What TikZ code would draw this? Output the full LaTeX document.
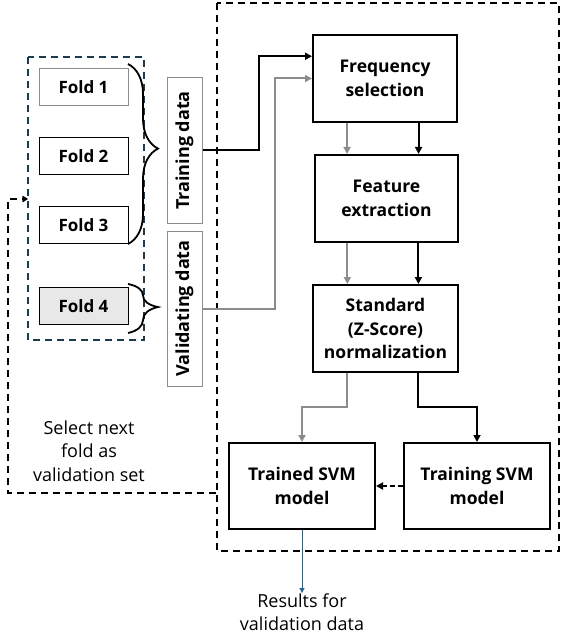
\documentclass[tikz,border=0pt]{standalone}
\usepackage{fontspec}
\setmainfont{Open Sans}
\usetikzlibrary{arrows.meta,calc,decorations.pathreplacing}
\definecolor{GreyClr}{rgb}{0.55,0.55,0.55}
\definecolor{FoldClr}{rgb}{0.11,0.23,0.30}
\definecolor{ResultClr}{rgb}{0.12,0.40,0.58}

\begin{document}
\begin{tikzpicture}[x=1pt,y=-1pt,
  every node/.style={font=\fontsize{18}{23.5}\selectfont, align=center, inner sep=0pt},
  foldbox/.style={draw, line width=1pt, minimum width=89pt, minimum height=37pt, font=\fontsize{17}{23}\selectfont\bfseries},
  databox/.style={draw=GreyClr, line width=1pt, rotate=90, minimum height=35pt, font=\fontsize{18}{22}\selectfont\bfseries},
  stepbox/.style={draw, line width=2pt, minimum width=145pt, minimum height=87pt, font=\fontsize{17.5}{23.5}\selectfont\bfseries},
  blk/.style={line width=2pt, -{Triangle[length=7pt,width=7pt]}},
  gry/.style={line width=2pt, GreyClr, -{Triangle[length=7pt,width=7pt]}},
  frame/.style={line width=1.6pt, dash pattern=on 7pt off 5pt}]
\useasboundingbox (0,0) rectangle (561,636);

% The folds of the data set.
\draw[frame, FoldClr] (28,57) rectangle (144,340);
\node[foldbox, draw=GreyClr] (fold1) at (83.5,87.5) {Fold 1};
\node[foldbox] (fold2) at (83.5,156.5) {Fold 2};
\node[foldbox] (fold3) at (83.5,225) {Fold 3};
\node[foldbox, fill=black!9] (fold4) at (83.5,306) {Fold 4};

\draw[line width=1.8pt, decorate, decoration={brace, amplitude=30pt, aspect=0.47}] (128,64) -- (128,244);
\draw[line width=1.8pt, decorate, decoration={brace, amplitude=30pt, aspect=0.47}] (128,284) -- (128,333);

\node[databox, minimum width=145pt] (train) at (184.5,150.5) {Training data};
\node[databox, minimum width=155pt] (valid) at (184.5,308.5) {Validating data};

% The processing chain.
\draw[frame] (217,3) rectangle (559,551);
\node[stepbox, minimum width=144pt] (freq) at (385,78.5) {Frequency\\selection};
\node[stepbox, minimum width=143pt] (feat) at (386.5,198.5) {Feature\\extraction};
\node[stepbox] (norm) at (385.5,328.5) {Standard\\(Z-Score)\\normalization};
\node[stepbox, minimum width=146pt, minimum height=86pt] (trained) at (302,486) {Trained SVM\\model};
\node[stepbox, minimum width=146pt, minimum height=86pt] (training) at (477,486) {Training SVM\\model};

\draw[blk] (train.south) -- ++(56,0) |- ($(freq.north west)!0.25!(freq.south west)$);
\draw[gry] (valid.south) -- ++(72,0) |- (freq.west);

\coordinate (fg) at ($(freq.south west)!0.24!(freq.south east)$);
\coordinate (fb) at ($(freq.south west)!0.73!(freq.south east)$);
\draw[gry] (fg) -- (fg |- feat.north);
\draw[blk] (fb) -- (fb |- feat.north);

\coordinate (eg) at ($(feat.south west)!0.23!(feat.south east)$);
\coordinate (eb) at ($(feat.south west)!0.72!(feat.south east)$);
\draw[gry] (eg) -- (eg |- norm.north);
\draw[blk] (eb) -- (eb |- norm.north);

\coordinate (ng) at ($(norm.south west)!0.24!(norm.south east)$);
\coordinate (nb) at ($(norm.south west)!0.72!(norm.south east)$);
\draw[gry] (ng) -- ++(0,34) -| (trained.north);
\draw[blk] (nb) -- ++(0,34) -| (training.north);

\draw[blk, dash pattern=on 5pt off 3pt] (training.west) -- (trained.east);

% Results and the loop to the next fold.
\node (results) at (302,612) {Results for\\validation data};
\draw[ResultClr, line width=0.9pt, -{Triangle[length=5pt,width=5pt]}] (trained.south) -- (results.north);

\node (select) at (89,451) {Select next\\fold as\\validation set};
\coordinate (loopa) at (216,493);
\coordinate (loopb) at (28,199);
\draw[frame, -{Straight Barb[length=4pt,width=5pt]}] (loopa) -| (8,199) -- (loopb);

\end{tikzpicture}
\end{document}
